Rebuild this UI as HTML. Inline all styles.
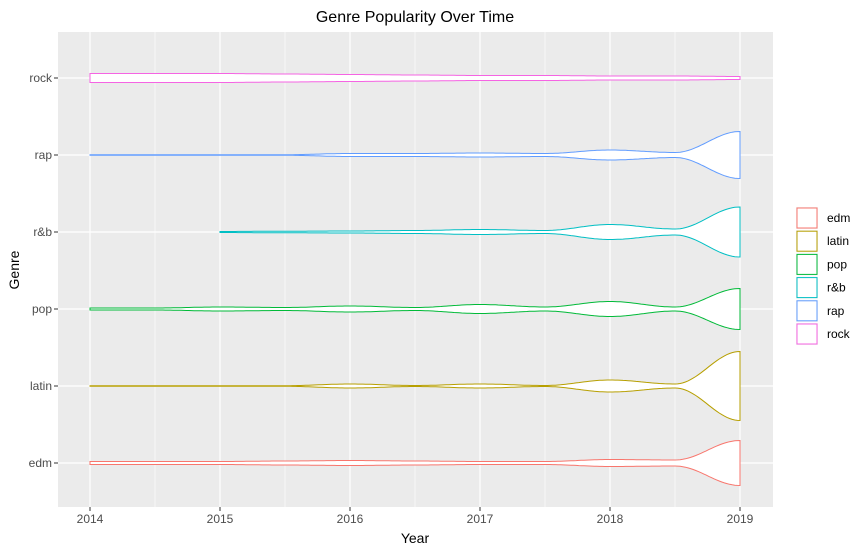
<!DOCTYPE html>
<html><head><meta charset="utf-8"><style>
body{margin:0;background:#fff;}
svg text{font-family:"Liberation Sans",sans-serif;}
</style></head><body>
<svg id="c" width="866" height="553"></svg>
<script>
const categories=["edm","latin","pop","r&b","rap","rock"];
const colors=["#F8766D","#B79F00","#00BA38","#00BFC4","#619CFF","#F564E3"];
const years=[2014,2015,2016,2017,2018,2019];
const sampleYears=[2014,2014.5,2015,2015.5,2016,2016.5,2017,2017.5,2018,2018.5,2019];
const startYear=[2014,2014,2014,2015,2014,2014];
const edmW=[1.5,1.5,1.5,2,2.5,2,1.5,1.5,3.5,3,22.5];
const latinW=[0.3,0.3,0.3,0.3,2,0.5,2,0.5,6,2,34.5];
const popW=[1,1,2,1.5,3,1.5,4.5,2,7.5,2,20.5];
const rnbW=[0,0,0.5,0.8,1,1.5,2.5,1.5,7.5,3,25];
const rapW=[0.2,0.2,0.2,0.3,1.5,1.5,2,1.5,5,2.5,23.5];
const rockW=[4.5,4.5,4.5,4,3.5,3,2.5,2.5,2,2,1.5];
const widths=[edmW,latinW,popW,rnbW,rapW,rockW];

const NS="http://www.w3.org/2000/svg";
const svg=document.getElementById('c');
const L=58,R=773,T=32,B=507;
const xs=y=>90+(y-2014)*130;
const ys=i=>463-i*77;
function mk(t,a,p){const e=document.createElementNS(NS,t);for(const k in a)e.setAttribute(k,a[k]);(p||svg).appendChild(e);return e;}
const panel=mk('rect',{x:L,y:T,width:R-L,height:B-T,fill:'#EBEBEB'});


for(let i=0;i<years.length-1;i++){const x=xs(years[i]+0.5);mk('line',{x1:x,x2:x,y1:T,y2:B,stroke:'#fff','stroke-width':0.6});}
for(let i=0;i<categories.length;i++){const y=ys(i);mk('line',{x1:L,x2:R,y1:y,y2:y,stroke:'#fff','stroke-width':1.2});}
years.forEach(yr=>{const x=xs(yr);mk('line',{x1:x,x2:x,y1:T,y2:B,stroke:'#fff','stroke-width':1.2});
 mk('line',{x1:x,x2:x,y1:B,y2:B+4,stroke:'#333','stroke-width':1});
 const t=mk('text',{x:x,y:B+16,'text-anchor':'middle','font-size':12,fill:'#4d4d4d'});t.textContent=yr;
 
 });
categories.forEach((c,i)=>{const y=ys(i);mk('line',{x1:L-4,x2:L,y1:y,y2:y,stroke:'#333'});
 const t=mk('text',{x:L-6,y:y+4,'text-anchor':'end','font-size':12,fill:'#4d4d4d'});t.textContent=c;
 
 });
function hw(w,yr){
 const p=(yr-2014)*2;let i=Math.floor(p);if(i>=w.length-1)return w[w.length-1];
 const f=p-i,s=(1-Math.cos(Math.PI*f))/2;return w[i]*(1-s)+w[i+1]*s;}
categories.forEach((c,i)=>{
 const w=widths[i],cy=ys(i),top=[],bot=[];
 for(let yr=startYear[i];yr<=2019.0001;yr+=0.02){const x=xs(yr),h=Math.max(0.15,hw(w,yr));top.push(x.toFixed(1)+','+(cy-h).toFixed(1));bot.unshift(x.toFixed(1)+','+(cy+h).toFixed(1));}
 const p=mk('polygon',{points:top.concat(bot).join(' '),fill:'#fff',stroke:colors[i],'stroke-width':1});
 
 
});
const title=mk('text',{x:415,y:22,'text-anchor':'middle','font-size':16,fill:'#000'});title.textContent='Genre Popularity Over Time';


const xt=mk('text',{x:415,y:543,'text-anchor':'middle','font-size':14,fill:'#000'});xt.textContent='Year';


const yt=mk('text',{x:0,y:0,'text-anchor':'middle','font-size':14,fill:'#000',transform:'translate(19,270) rotate(-90)'});yt.textContent='Genre';


categories.forEach((c,i)=>{
 const g=mk('g',{});
 
 
 const y=207+i*23.2;
 mk('rect',{x:796,y:y,width:22,height:22,fill:'#F2F2F2'},g);
 mk('rect',{x:797,y:y+1,width:20,height:20,fill:'#fff',stroke:colors[i]},g);
 const t=mk('text',{x:827,y:y+15,'font-size':12,fill:'#000'},g);t.textContent=c;
});
</script>
</body></html>
